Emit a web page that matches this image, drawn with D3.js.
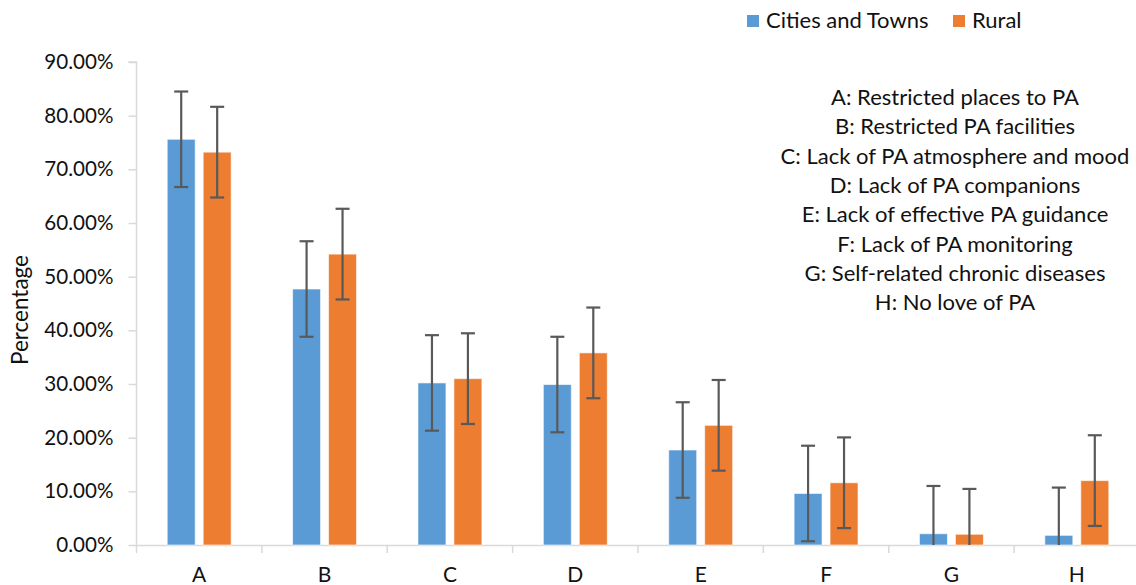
<!DOCTYPE html>
<html>
<head>
<meta charset="utf-8">
<script src="https://cdn.jsdelivr.net/npm/d3@7"></script>
<style>
  html, body { margin: 0; padding: 0; background: #fff; }
  text { font-family: Lato, "Open Sans", sans-serif; fill: #111; }
</style>
</head>
<body>
<svg id="chart" width="1136" height="585"></svg>
<script>
const categories = ["A", "B", "C", "D", "E", "F", "G", "H"];
const seriesNames = ["Cities and Towns", "Rural"];
const citiesValues = [0.756, 0.477, 0.302, 0.299, 0.177, 0.096, 0.021, 0.018];
const ruralValues  = [0.732, 0.542, 0.310, 0.358, 0.223, 0.116, 0.020, 0.120];
const citiesError = [0.089, 0.089, 0.089, 0.089, 0.089, 0.089, 0.089, 0.089];
const ruralError  = [0.0845, 0.0845, 0.0845, 0.0845, 0.0845, 0.0845, 0.0845, 0.0845];
const yTicks = [0, 0.1, 0.2, 0.3, 0.4, 0.5, 0.6, 0.7, 0.8, 0.9];
const notes = [
  "A: Restricted places to PA",
  "B: Restricted PA facilities",
  "C: Lack of PA atmosphere and mood",
  "D: Lack of PA companions",
  "E: Lack of effective PA guidance",
  "F: Lack of PA monitoring",
  "G: Self-related chronic diseases",
  "H: No love of PA"
];
const colors = ["#5B9BD5", "#ED7D31"];

const svg = d3.select("#chart");
const mLeft = 136.5, mRight = 1139.5, mTop = 62, mBottom = 545;

const x0 = d3.scaleBand().domain(categories).range([mLeft, mRight]).padding(0);
const bw = x0.bandwidth();
const x1 = d3.scaleBand().domain(seriesNames).range([bw * 0.245, bw * 0.755]).paddingInner(0.2222).paddingOuter(0);
const y = d3.scaleLinear().domain([0, 0.9]).range([mBottom, mTop]);

const data = categories.map((c, i) => ({
  cat: c,
  vals: [
    { s: seriesNames[0], v: citiesValues[i], e: citiesError[i], k: 0 },
    { s: seriesNames[1], v: ruralValues[i], e: ruralError[i], k: 1 }
  ]
}));

// Y axis
const yAxis = d3.axisLeft(y).tickValues(yTicks).tickSize(8).tickPadding(15)
  .tickFormat(d => (d * 100).toFixed(2) + "%");
const gy = svg.append("g").attr("transform", `translate(${mLeft},0)`).call(yAxis);
gy.select(".domain").attr("stroke", "#D9D9D9").attr("stroke-width", 1.5).attr("d", `M-8,${mTop}H0V${mBottom}`);
gy.selectAll(".tick line").attr("stroke", "#D9D9D9").attr("stroke-width", 1.5);
gy.selectAll(".tick text").style("font-size", "20.6px").attr("fill", "#111");

// X axis
const xAxis = d3.axisBottom(x0).tickSize(0).tickPadding(22);
const gx = svg.append("g").attr("transform", `translate(0,${mBottom})`).call(xAxis);
gx.select(".domain").attr("stroke", "#D9D9D9").attr("stroke-width", 1.5);
gx.selectAll(".tick text").style("font-size", "21px").attr("fill", "#111");
const bounds = categories.map(c => x0(c)).concat([mRight]);
gx.selectAll(".bt").data(bounds).enter().append("line")
  .attr("x1", d => d).attr("x2", d => d).attr("y1", 0).attr("y2", 8)
  .attr("stroke", "#D9D9D9").attr("stroke-width", 1.5);

// Bars
const groups = svg.append("g").selectAll("g").data(data).enter().append("g")
  .attr("transform", d => `translate(${x0(d.cat)},0)`);
groups.selectAll("rect").data(d => d.vals).enter().append("rect")
  .attr("x", d => x1(d.s)).attr("width", x1.bandwidth())
  .attr("y", d => y(d.v)).attr("height", d => y(0) - y(d.v))
  .attr("fill", d => colors[d.k])
  .attr("stroke", "rgba(255,255,255,0.6)").attr("stroke-width", 1);

// Error bars
const capW = 14;
const eb = groups.selectAll("g.eb").data(d => d.vals).enter().append("g").attr("class", "eb")
  .attr("stroke", "#595959").attr("stroke-width", 2.2);
eb.append("line")
  .attr("x1", d => x1(d.s) + x1.bandwidth() / 2).attr("x2", d => x1(d.s) + x1.bandwidth() / 2)
  .attr("y1", d => y(d.v + d.e)).attr("y2", d => y(Math.max(0, d.v - d.e)));
eb.append("line")
  .attr("x1", d => x1(d.s) + x1.bandwidth() / 2 - capW / 2).attr("x2", d => x1(d.s) + x1.bandwidth() / 2 + capW / 2)
  .attr("y1", d => y(d.v + d.e)).attr("y2", d => y(d.v + d.e));
eb.filter(d => d.v - d.e > 0).append("line")
  .attr("x1", d => x1(d.s) + x1.bandwidth() / 2 - capW / 2).attr("x2", d => x1(d.s) + x1.bandwidth() / 2 + capW / 2)
  .attr("y1", d => y(d.v - d.e)).attr("y2", d => y(d.v - d.e));

// Y axis title
svg.append("text")
  .attr("transform", `translate(28,310) rotate(-90)`)
  .attr("text-anchor", "middle")
  .style("font-size", "22.5px")
  .text("Percentage");

// Legend
const legend = svg.append("g").attr("transform", "translate(747,15)");
const lgX = [0, 206];
seriesNames.forEach((s, i) => {
  const g = legend.append("g").attr("transform", `translate(${lgX[i]},0)`);
  g.append("rect").attr("width", 12).attr("height", 12).attr("fill", colors[i]);
  g.append("text").attr("x", 19).attr("y", 12.5).style("font-size", "22px").text(s);
});

// Notes
const noteCenter = 955, noteRight = 1131;
const nt = svg.append("g");
notes.forEach((n, i) => {
  const t = nt.append("text").attr("y", 105 + i * 29.3).attr("text-anchor", "middle")
    .style("font-size", "22px").text(n);
  const w = t.node().getComputedTextLength();
  t.attr("x", Math.min(noteCenter, noteRight - w / 2));
});
</script>
</body>
</html>
